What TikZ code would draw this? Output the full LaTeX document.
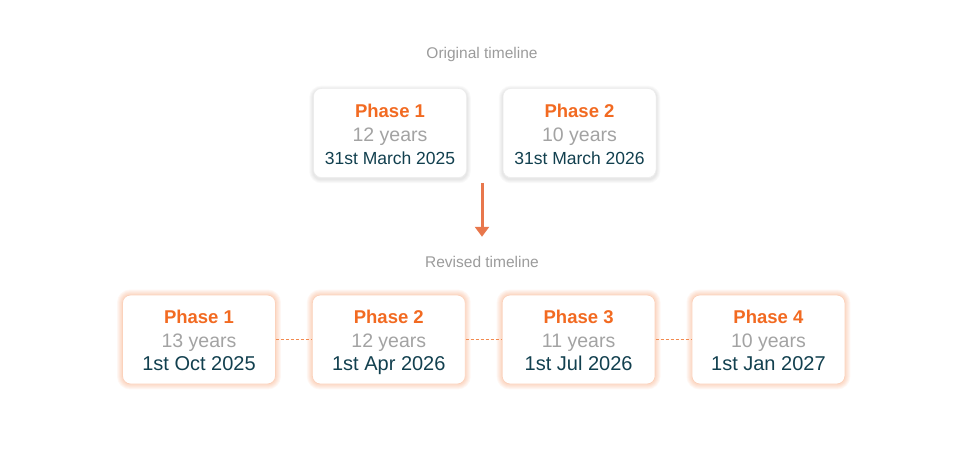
\documentclass[tikz,border=0pt]{standalone}
\usepackage{fontspec}
\setmainfont{Liberation Sans}
\usepackage{xcolor}
\usetikzlibrary{arrows.meta, positioning, backgrounds, calc}

\definecolor{phaseorange}{HTML}{F26A21}
\definecolor{arroworange}{HTML}{E8774C}
\definecolor{linkorange}{HTML}{F28A50}
\definecolor{yeargray}{HTML}{A3A3A3}
\definecolor{datenavy}{HTML}{12404F}
\definecolor{titlegray}{HTML}{9B9B9B}

% three lines of one card: phase, duration, date (date size as #4)
\newcommand{\cardlines}[4]{%
  {\fontsize{18.5}{24}\selectfont\bfseries\color{phaseorange}\rule{0pt}{20pt}#1\vphantom{Jpy}}\\[0pt]
  {\fontsize{19.5}{24}\selectfont\color{yeargray}#2\vphantom{Jpy}}\\[-1pt]
  {\fontsize{#4}{22}\selectfont\color{datenavy}#3\vphantom{Jpy}}}

\begin{document}
\begin{tikzpicture}[
    x=1pt, y=-1pt,
    node distance = 36pt,
    card/.style = {
        rectangle, rounded corners=8pt, fill=white,
        minimum width=153pt, minimum height=89pt,
        align=center, inner sep=0pt, font=\fontsize{19}{24}\selectfont
    },
    origcard/.style = {card, draw=black!8, line width=0.5pt},
    revcard/.style  = {card, draw=phaseorange!30, line width=0.8pt},
    heading/.style  = {font=\fontsize{15.5}{18}\selectfont, text=titlegray},
    arr/.style  = {-{Triangle[width=14pt, length=10pt]}, line width=3pt, arroworange},
    link/.style = {draw=linkorange, line width=1.2pt, dash pattern=on 3pt off 2pt}
]
\useasboundingbox (0,0) rectangle (965,462);

% original timeline
\node[heading] (origtitle) at (482,54) {Original timeline};
\node[origcard] (o1) at (390,133)
    {\cardlines{Phase 1}{12 years}{31st March 2025}{17.5}};
\node[origcard, right=of o1] (o2)
    {\cardlines{Phase 2}{10 years}{31st March 2026}{17.5}};

% revised timeline
\node[heading] (revtitle) at (482,262) {Revised timeline};
\node[revcard] (r1) at (199,339.5)
    {\cardlines{Phase 1}{13 years}{1st Oct 2025}{20}};
\node[revcard, right=of r1] (r2)
    {\cardlines{Phase 2}{12 years}{1st Apr 2026}{20}};
\node[revcard, right=of r2] (r3)
    {\cardlines{Phase 3}{11 years}{1st Jul 2026}{20}};
\node[revcard, right=of r3] (r4)
    {\cardlines{Phase 4}{10 years}{1st Jan 2027}{20}};

% shadows and glow
\begin{scope}[on background layer]
  \foreach \n in {o1,o2}
    \foreach \w in {2,4,6,8}
      \draw[black, opacity=0.025, line width=\w pt, rounded corners=8pt]
        ([yshift=-1.5pt]\n.south west) rectangle ([yshift=-1.5pt]\n.north east);
  \foreach \n in {r1,r2,r3,r4}
    \foreach \w in {2,4,...,10}
      \draw[phaseorange, opacity=0.05, line width=\w pt, rounded corners=8pt]
        (\n.south west) rectangle (\n.north east);
\end{scope}

% connectors
\coordinate (arrowtop) at ($(origtitle.south)+(0,118)$);
\coordinate (arrowtip) at ($(revtitle.north)+(0,-16)$);
\draw[arr] (arrowtop) -- (arrowtip);
\draw[link] (r1) -- (r2);
\draw[link] (r2) -- (r3);
\draw[link] (r3) -- (r4);
\end{tikzpicture}
\end{document}
